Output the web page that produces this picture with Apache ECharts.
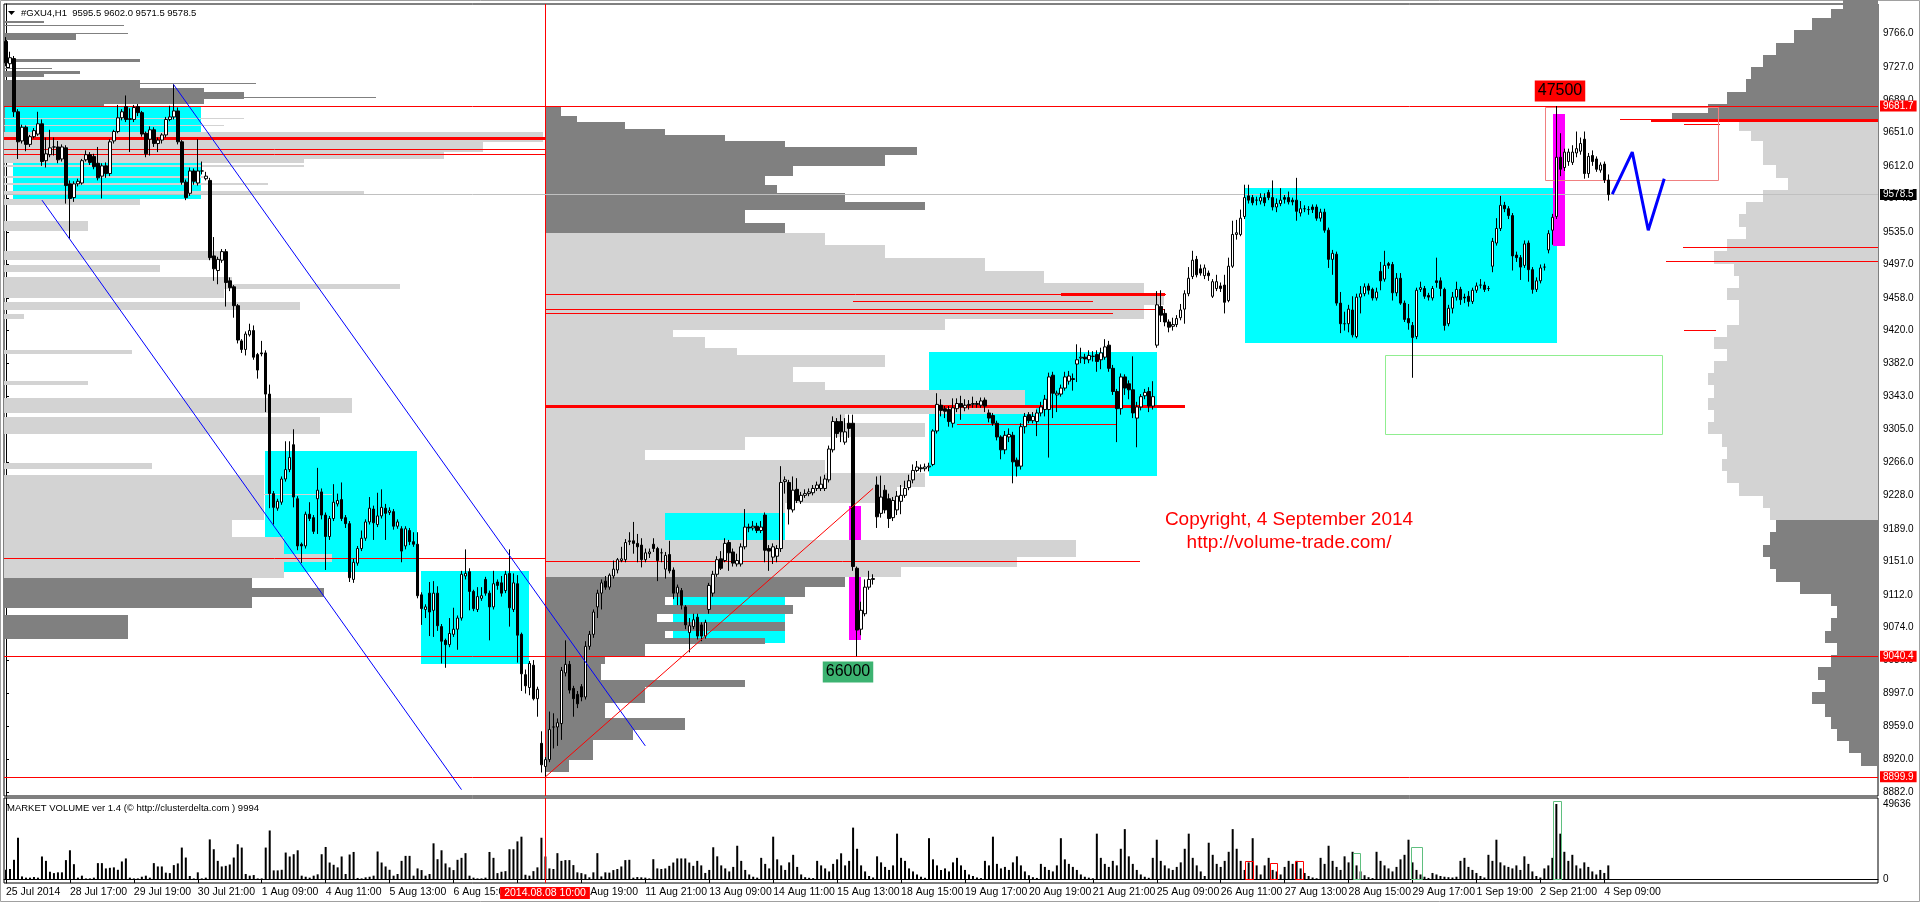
<!DOCTYPE html>
<html><head><meta charset="utf-8">
<script src="https://cdn.jsdelivr.net/npm/echarts@6/dist/echarts.min.js"></script>
<style>html,body{margin:0;padding:0;background:#fff}#c{width:1920px;height:902px}</style>
</head><body><div id="c"></div>
<script>
// ---------------- DATA ----------------
const SLOTS = 469;
const dateLabels = [[0,'25 Jul 2014'],[16,'28 Jul 17:00'],[32,'29 Jul 19:00'],[48,'30 Jul 21:00'],[64,'1 Aug 09:00'],[80,'4 Aug 11:00'],[96,'5 Aug 13:00'],[112,'6 Aug 15:00'],[128,'7 Aug 17:00'],[144,'8 Aug 19:00'],[160,'11 Aug 21:00'],[176,'13 Aug 09:00'],[192,'14 Aug 11:00'],[208,'15 Aug 13:00'],[224,'18 Aug 15:00'],[240,'19 Aug 17:00'],[256,'20 Aug 19:00'],[272,'21 Aug 21:00'],[288,'25 Aug 09:00'],[304,'26 Aug 11:00'],[320,'27 Aug 13:00'],[336,'28 Aug 15:00'],[352,'29 Aug 17:00'],[368,'1 Sep 19:00'],[384,'2 Sep 21:00'],[400,'4 Sep 09:00']];
const priceTicks = [8882,8920,8959,8997,9036,9074,9112,9151,9189,9228,9266,9305,9343,9382,9420,9458,9497,9535,9574,9612,9651,9689,9727,9766];
const volTicks = [0, 49636];
// O H L C per H1 bar
const ohlc = [
[9757,9762,9728,9732],[9731,9745,9726,9738],[9737,9740,9669,9675],[9675,9678,9620,9640],[9641,9660,9638,9657],[9657,9659,9629,9637],[9637,9648,9634,9646],[9646,9656,9644,9653],[9649,9675,9647,9661],[9661,9666,9612,9617],
[9618,9645,9610,9626],[9625,9654,9622,9633],[9634,9645,9624,9634],[9634,9641,9615,9619],[9620,9637,9617,9634],[9633,9636,9568,9589],[9591,9595,9527,9574],[9575,9594,9570,9591],[9591,9597,9588,9594],[9592,9620,9590,9618],
[9619,9630,9617,9625],[9625,9628,9613,9616],[9623,9626,9608,9611],[9615,9634,9595,9598],[9600,9615,9574,9612],[9612,9616,9598,9603],[9603,9643,9600,9640],[9641,9654,9638,9652],[9652,9683,9650,9668],[9668,9678,9665,9675],
[9681,9694,9663,9666],[9666,9679,9628,9667],[9666,9683,9663,9680],[9681,9684,9670,9674],[9674,9676,9646,9649],[9650,9652,9622,9626],[9643,9658,9624,9654],[9654,9657,9634,9638],[9638,9645,9628,9642],[9642,9650,9638,9648],
[9648,9669,9645,9666],[9666,9682,9664,9669],[9669,9707,9666,9676],[9676,9680,9637,9640],[9640,9642,9590,9593],[9593,9596,9572,9575],[9580,9610,9577,9606],[9606,9609,9590,9594],[9592,9643,9589,9606],[9606,9617,9602,9606],
[9597,9605,9595,9600],[9595,9598,9502,9505],[9507,9529,9478,9492],[9490,9506,9474,9503],[9502,9515,9499,9512],[9512,9515,9448,9476],[9478,9482,9466,9470],[9471,9473,9435,9449],[9449,9451,9405,9409],[9408,9410,9394,9398],
[9398,9419,9391,9416],[9415,9428,9413,9420],[9420,9426,9386,9389],[9392,9394,9364,9374],[9394,9408,9390,9393],[9394,9397,9325,9346],[9346,9357,9213,9230],[9230,9233,9194,9214],[9213,9224,9210,9221],[9220,9250,9217,9247],
[9247,9291,9244,9258],[9258,9291,9255,9272],[9287,9305,9214,9226],[9224,9227,9164,9169],[9171,9173,9149,9169],[9169,9209,9166,9206],[9206,9220,9198,9201],[9202,9205,9183,9186],[9224,9260,9183,9234],[9232,9236,9200,9205],
[9205,9208,9141,9180],[9180,9204,9176,9201],[9201,9241,9198,9220],[9218,9230,9215,9222],[9223,9243,9198,9201],[9202,9205,9190,9195],[9195,9198,9127,9132],[9130,9154,9126,9150],[9149,9169,9146,9166],[9166,9187,9163,9178],
[9178,9200,9175,9197],[9197,9226,9194,9213],[9212,9216,9176,9196],[9194,9231,9191,9204],[9204,9235,9201,9214],[9213,9218,9176,9207],[9208,9214,9205,9210],[9209,9212,9188,9192],[9192,9200,9189,9197],[9189,9192,9150,9163],
[9169,9192,9165,9189],[9187,9190,9170,9174],[9174,9185,9168,9171],[9171,9185,9108,9111],[9112,9115,9077,9096],[9095,9101,9085,9098],[9114,9127,9064,9092],[9094,9128,9063,9114],[9114,9122,9070,9076],[9075,9078,9032,9058],
[9059,9061,9027,9054],[9054,9085,9051,9067],[9066,9097,9063,9072],[9072,9088,9048,9085],[9085,9140,9082,9136],[9134,9165,9130,9137],[9139,9143,9094,9116],[9116,9118,9093,9096],[9095,9121,9092,9110],[9108,9121,9105,9111],
[9130,9133,9111,9114],[9114,9117,9059,9098],[9098,9140,9095,9125],[9127,9130,9118,9123],[9126,9134,9110,9114],[9117,9140,9114,9136],[9137,9165,9075,9097],[9095,9137,9092,9126],[9125,9135,9033,9065],[9066,9068,9000,9020],
[9019,9025,8997,9006],[9004,9035,8995,9032],[9030,9036,8989,8991],[8991,9005,8970,9002],[8939,8953,8905,8914],[8912,8923,8899.9,8920],[8920,8976,8917,8955],[8958,8974,8933,8958],[8958,8968,8936,8963],[8962,9028,8943,9024],
[9021,9059,9017,9031],[9031,9035,8997,9001],[9003,9006,8970,8991],[8996,9000,8980,8985],[9005,9008,8988,8993],[8993,9058,8990,9052],[9052,9070,9048,9066],[9066,9095,9062,9092],[9098,9118,9085,9114],[9114,9130,9095,9126],
[9128,9134,9118,9121],[9121,9137,9118,9135],[9134,9152,9131,9142],[9141,9155,9137,9153],[9152,9168,9150,9154],[9153,9177,9150,9173],[9174,9185,9170,9175],[9175,9197,9160,9172],[9172,9183,9150,9168],[9170,9178,9144,9153],
[9153,9166,9150,9161],[9160,9166,9155,9162],[9171,9178,9162,9166],[9166,9168,9128,9152],[9161,9166,9150,9161],[9142,9162,9131,9158],[9159,9175,9137,9140],[9141,9144,9107,9114],[9114,9124,9100,9121],[9117,9120,9095,9100],
[9098,9100,9072,9077],[9068,9085,9045,9076],[9075,9090,9072,9083],[9086,9090,9060,9064],[9077,9080,9058,9064],[9064,9083,9061,9080],[9095,9126,9090,9123],[9114,9140,9110,9136],[9136,9157,9133,9153],[9154,9163,9141,9143],
[9152,9178,9150,9172],[9173,9176,9140,9161],[9162,9166,9145,9149],[9148,9160,9145,9152],[9148,9172,9145,9168],[9168,9212,9165,9191],[9191,9195,9185,9190],[9190,9198,9187,9192],[9192,9196,9184,9187],[9187,9198,9184,9191],
[9205,9208,9150,9164],[9166,9170,9140,9163],[9156,9172,9148,9168],[9157,9170,9150,9166],[9166,9262,9162,9243],[9244,9250,9230,9246],[9243,9246,9194,9212],[9211,9250,9208,9234],[9235,9248,9219,9222],[9221,9232,9218,9228],
[9228,9235,9225,9230],[9230,9236,9227,9232],[9231,9240,9228,9236],[9236,9244,9233,9240],[9236,9250,9233,9241],[9236,9252,9233,9247],[9246,9286,9243,9282],[9281,9320,9278,9314],[9314,9318,9295,9300],[9314,9322,9290,9302],
[9290,9318,9287,9302],[9312,9322,9295,9306],[9312,9322,9140,9145],[9143,9145,9040.4,9071],[9072,9104,9065,9094],[9090,9130,9087,9121],[9121,9140,9118,9130],[9130,9136,9124,9131],[9240,9250,9190,9203],[9207,9251,9202,9226],
[9234,9240,9207,9211],[9224,9230,9190,9201],[9202,9226,9198,9222],[9211,9233,9205,9227],[9221,9240,9206,9228],[9228,9245,9225,9236],[9237,9252,9234,9245],[9246,9264,9242,9257],[9257,9268,9255,9261],[9260,9264,9255,9259],
[9259,9265,9256,9261],[9261,9266,9256,9262],[9264,9305,9262,9303],[9303,9347,9300,9334],[9333,9340,9320,9327],[9329,9332,9318,9326],[9328,9332,9308,9314],[9312,9341,9307,9330],[9329,9341,9325,9335],[9335,9344,9316,9331],
[9330,9340,9326,9333],[9334,9339,9328,9333],[9334,9343,9330,9335],[9335,9338,9330,9334],[9333,9342,9330,9338],[9339,9342,9325,9332],[9324,9328,9313,9318],[9321,9324,9309,9312],[9312,9315,9292,9296],[9296,9298,9270,9281],
[9281,9303,9276,9298],[9296,9306,9290,9299],[9298,9302,9242,9267],[9269,9272,9250,9262],[9262,9312,9258,9308],[9308,9324,9300,9320],[9322,9325,9312,9315],[9315,9325,9312,9320],[9314,9328,9297,9324],[9324,9337,9320,9331],
[9328,9345,9320,9340],[9328,9371,9272,9366],[9368,9372,9318,9347],[9345,9350,9325,9347],[9346,9357,9343,9353],[9353,9372,9350,9366],[9361,9373,9357,9367],[9364,9370,9350,9363],[9381,9404,9360,9386],[9388,9400,9382,9389],
[9389,9393,9381,9387],[9386,9397,9382,9391],[9390,9396,9384,9390],[9392,9397,9372,9384],[9386,9400,9375,9394],[9389,9410,9386,9401],[9403,9408,9372,9376],[9376,9380,9345,9349],[9349,9352,9290,9329],[9329,9370,9322,9366],
[9366,9369,9345,9353],[9358,9362,9340,9351],[9351,9390,9318,9324],[9318,9337,9284,9331],[9331,9346,9327,9343],[9344,9352,9340,9348],[9349,9354,9325,9332],[9332,9361,9328,9343],[9403,9466,9400,9450],[9448,9467,9430,9438],
[9440,9445,9425,9430],[9430,9433,9418,9424],[9425,9435,9420,9427],[9427,9438,9424,9434],[9435,9451,9432,9444],[9445,9467,9428,9463],[9463,9494,9460,9481],[9483,9513,9480,9502],[9503,9507,9482,9485],[9492,9497,9484,9487],
[9484,9497,9480,9493],[9487,9490,9478,9484],[9460,9480,9458,9477],[9469,9485,9466,9477],[9472,9476,9465,9469],[9473,9485,9440,9453],[9455,9505,9453,9495],[9495,9548,9493,9532],[9532,9549,9526,9534],[9532,9561,9530,9551],
[9553,9590,9550,9575],[9577,9590,9568,9572],[9575,9578,9566,9569],[9572,9576,9566,9572],[9571,9580,9567,9575],[9575,9580,9565,9569],[9581,9584,9572,9575],[9575,9595,9560,9564],[9564,9574,9558,9568],[9568,9586,9565,9572],
[9575,9578,9568,9573],[9575,9582,9567,9570],[9572,9575,9566,9570],[9572,9598,9548,9559],[9557,9571,9553,9562],[9562,9566,9558,9562],[9561,9565,9555,9561],[9564,9567,9557,9561],[9564,9567,9548,9551],[9551,9562,9547,9558],
[9558,9562,9534,9537],[9537,9540,9493,9503],[9503,9514,9485,9510],[9509,9512,9449,9452],[9452,9465,9417,9428],[9428,9442,9420,9428],[9428,9450,9418,9445],[9444,9460,9412,9415],[9413,9463,9411,9459],[9459,9472,9440,9463],
[9463,9475,9460,9471],[9472,9475,9462,9467],[9468,9470,9455,9458],[9458,9470,9455,9465],[9489,9500,9467,9478],[9480,9513,9477,9496],[9498,9500,9492,9496],[9497,9500,9455,9464],[9464,9487,9460,9481],[9481,9487,9450,9452],
[9452,9455,9430,9433],[9434,9451,9421,9429],[9426,9430,9365,9412],[9413,9470,9410,9467],[9468,9477,9465,9470],[9469,9472,9457,9460],[9461,9464,9455,9459],[9458,9472,9455,9469],[9478,9505,9470,9476],[9478,9482,9460,9469],
[9468,9470,9420,9426],[9428,9450,9425,9446],[9446,9465,9440,9459],[9459,9477,9455,9468],[9468,9471,9450,9456],[9459,9463,9452,9458],[9460,9466,9448,9454],[9454,9470,9451,9467],[9467,9476,9464,9472],[9473,9480,9469,9473],
[9473,9477,9465,9468],[9469,9472,9466,9469],[9495,9528,9488,9524],[9522,9551,9519,9539],[9539,9577,9536,9566],[9566,9570,9558,9562],[9562,9565,9550,9554],[9554,9557,9490,9507],[9508,9512,9500,9505],[9505,9508,9479,9494],
[9496,9525,9493,9521],[9522,9525,9477,9491],[9491,9494,9463,9468],[9468,9482,9465,9478],[9478,9497,9475,9493],[9494,9498,9490,9494],[9514,9537,9510,9533],[9537,9556,9520,9552],[9553,9681.7,9550,9622],[9622,9650,9600,9608],
[9610,9632,9606,9628],[9617,9632,9612,9628],[9616,9636,9613,9628],[9627,9652,9622,9632],[9629,9645,9625,9638],[9643,9652,9597,9603],[9603,9627,9598,9623],[9624,9630,9612,9617],[9620,9623,9605,9608],[9607,9616,9604,9613],
[9614,9617,9592,9595.5],[9595.5,9602,9571.5,9578.5]
];
const volume = [
6100,6600,12700,27300,1700,900,900,1300,900,14900,12000,4800,3900,4400,4400,12500,19000,9800,900,2200,
400,400,900,10500,10500,7000,7400,7700,6100,11600,13600,900,400,400,1500,2200,900,10500,8300,8300,
4200,3900,9200,10300,20800,14200,2000,400,4400,400,900,26200,19700,12000,8300,8700,9600,14200,23000,20800,
3300,2200,2600,400,400,20800,32100,5700,5700,6100,17500,14900,16400,19000,2200,1500,900,2200,3100,16400,
21200,10900,9400,7700,14900,3300,16200,17900,700,400,1100,1500,2200,18200,10900,8300,6100,2200,3300,12000,
15300,15300,2200,7000,5900,2200,3300,23600,13100,19000,10300,7700,5900,12700,14000,17100,2200,900,400,400,
900,17900,14000,3900,4800,5200,19700,19700,24900,28000,2800,2200,5200,7700,27300,14900,7000,6600,17100,12000,
12500,12500,9200,4400,3900,3100,1100,4400,17100,1700,4400,4200,5900,6600,8300,12500,12700,900,1300,1100,
900,400,13100,7000,6600,7000,8700,10900,13600,13600,13600,10900,8700,
12000,9000,4000,6000,21000,15000,9000,7000,5000,8000,22000,12000,6000,3000,
1500,900,14000,10000,7000,28000,13000,9000,6000,11000,16000,8000,3000,1200,
800,600,12000,9000,7000,5000,10000,13000,17000,9000,12000,34000,20000,9000,5000,2000,
1000,15000,11000,8000,6000,9000,30000,14000,12000,7000,5000,3000,1500,800,
27000,13000,9000,6000,7000,5000,11000,14000,9000,6000,3000,2000,1000,600,
12000,9000,28000,10000,7000,8000,6000,11000,15000,9000,5000,2500,1200,700,
10000,8000,6000,5000,9000,27000,13000,10000,8000,6000,3000,1500,900,500,
30000,14000,10000,8000,12000,9000,20000,33000,15000,10000,6000,3000,1500,800,
14000,26000,12000,9000,7000,6000,8000,11000,20000,30000,14000,9000,5000,2000,
24000,16000,10000,8000,12000,18000,33000,20000,12000,6000,11000,27000,9000,3000,
9000,14000,6000,5000,3000,8000,12000,10000,12000,7000,4000,2000,1000,500,
14000,10000,22000,12000,8000,6000,15000,11000,18000,9000,5000,2500,1200,600,
18000,12000,9000,7000,5000,8000,13000,16000,26000,11000,6000,3000,1500,700,
4000,3000,2000,1500,1200,1000,1500,12000,14000,8000,6000,4000,2000,1000,
16000,12000,26000,11000,9000,8000,7000,9000,6000,15000,10000,5000,2000,1000,
7000,9000,14000,49636,30000,18000,12000,16000,9000,7000,11000,8000,5000,3000,6000,4000,9000
];
// volume profiles: [price top, price bottom, volume (bar units)]
const leftProfile = [[9781,9778,10],[9776.5,9775.3,30],[9767,9759,18],[9766.5,9765.5,31],[9737,9733,34],[9726.5,9725.2,12],[9723,9719,19],[9721,9716,10],[9712,9703,34],[9708,9707,63],[9703,9684,50],[9698,9690,60],[9692.5,9691.5,93],[9684,9682,25],
[9668,9666,60],[9660,9658,55],[9652,9640,135],[9640,9628,120],[9628,9620,110],[9620,9615,75],[9613,9611,75],[9600,9598,50],[9592,9590,66],[9583,9578,90],[9573,9566,34],[9548,9536,21],[9513,9502,55],[9496,9488,39],[9483,9474,57],[9474,9469,99],[9469,9458,55],[9453,9444,74],[9439,9434,5],[9397,9393,32],[9361,9356,21],[9342,9324,87],[9319,9300,79],[9266,9259,37],[9252,9199,65],[9230,9228,82],[9199,9180,57],[9180,9132,70],[9160,9150,82],
[9132,9097,62],[9120,9110,80],[9088,9060,31],[9062,9060,13]];
const leftValueArea = [9132, 9682];
const midProfile = [[9680,9670,4],[9670,9663,8],[9663,9655,20],[9655,9648,30],[9648,9641,45],[9641,9634,60],[9634,9625,93],[9625,9612,85],[9612,9600,62],[9600,9590,55],[9590,9580,58],[9580,9570,75],[9570,9560,95],[9560,9545,50],[9545,9534,60],
[9534,9520,70],[9520,9505,85],[9505,9490,110],[9490,9475,125],[9475,9463,150],[9463,9450,155],[9450,9434,150],[9434,9421,100],[9421,9413,32],[9413,9400,40],[9400,9392,48],[9392,9378,85],[9378,9360,62],[9360,9351,70],[9351,9333,120],[9333,9323,123],[9323,9312,75],[9312,9296,95],[9296,9281,50],[9281,9269,25],[9269,9254,70],[9254,9238,95],[9238,9219,88],[9219,9207,60],[9207,9176,30],[9176,9156,133],[9156,9145,118],[9145,9133,89],
[9133,9121,75],[9121,9110,65],[9110,9100,30],[9100,9090,62],[9090,9080,28],[9080,9070,60],[9070,9062,30],[9062,9055,55],[9055,9040,25],[9040,9032,15],[9032,9013,14],[9013,9005,50],[9005,8986,25],[8986,8968,15],[8968,8954,35],[8954,8943,22],[8943,8920,12],[8920,8906,6]];
const midValueArea = [9133, 9534];
const rightProfile = [[9805,9795,8.8],[9795,9784,11.8],[9784,9770,16.5],[9770,9755,21],[9755,9741,25.5],[9741,9727,28.8],[9727,9713,31.8],[9713,9698,33],[9698,9684,37.8],[9684,9673,42.5],[9673,9663,51.5],[9663,9653,34.8],[9653,9641,31.8],[9641,9627,28.8],[9627,9613,28.8],[9613,9598,25.5],[9598,9584,22.5],[9584,9570,28.8],[9570,9556,33],[9556,9541,34.8],[9541,9527,33],[9527,9513,37.8],[9513,9498,41],[9498,9484,36],[9484,9470,34.8],[9470,9456,37.8],[9456,9441,34.8],[9441,9427,34.8],[9427,9413,37.8],[9413,9399,41],[9399,9384,37.8],[9384,9370,41],[9370,9356,42.5],[9356,9341,41],[9341,9327,42.5],[9327,9313,41],[9313,9299,42.5],[9299,9284,39],[9284,9270,37.8],[9270,9256,39],[9256,9242,37.8],[9242,9227,34.8],[9227,9213,28.8],[9213,9199,27],[9199,9185,25.5],[9185,9170,27],[9170,9156,28.8],[9156,9142,27],[9142,9127,25.5],[9127,9113,19.5],[9113,9099,11.8],[9099,9085,10.3],[9085,9070,11.8],[9070,9056,13.3],[9056,9042,10.3],[9042,9028,11.8],[9028,9013,15],[9013,8999,13.3],[8999,8985,16.5],[8985,8970,13.3],[8970,8956,11.8],[8956,8942,10.3],[8942,8928,7.3],[8928,8913,4.3]];
const rightValueArea = [9199, 9663];
// zones: [bar from, bar to, price low, price high]
const cyanZones = [[-0.25,48.8,9652,9682],[1.75,48.8,9573,9615],[64.8,102.9,9139,9280],[103.9,130.9,9031,9140],[164.9,194.9,9176,9207],[166.9,194.9,9056,9128],[231,288,9251,9395],[310,388.1,9406,9586]];
const magentaZones = [[211,214,9171,9215],[211,214,9059,9145],[387.1,390.1,9518,9672]];
const pinkFrames = [[385.1,428.4,9596,9680]];
const greenFrames = [[345.1,414.4,9299,9392]];
// horizontal levels: [bar from, bar to, price]
const redLevelsThin = [[-0.5,134.9,9632],[-0.5,134.9,9626],[-0.5,134.9,9155],[134.9,283.8,9151],[134.9,290.3,9463],[212,272,9455],[134.9,290,9445],[134.9,277,9440],[238,278,9311],[404,411.7,9666],[420,429,9661],[419.7,468.5,9517],[415.4,468.5,9501],[420,428,9421]];
const redLevelsThick = [[-0.5,134.9,9644],[134.9,295,9332],[264,290,9463],[411.7,468.5,9665]];
const fullLevels = [9681.7, 9040.4, 8899.9];
const lastPrice = 9578.5;
const channelUpper = [[41.9,9707],[160,8936]];
const channelLower = [[9,9572],[114,8885]];
const trendLine = [[135,8899.9],[217,9236]];
const forecast = [[402,9579],[407,9628],[411,9537],[415,9597]];
const markerBar = 135;
const volRedFrames = [[310.1,312.1,11900],[316.4,318.2,10600],[322.7,324.7,11900]];
const volGreenFrames = [[337.1,338.8,16900],[351.6,354.4,20900],[387.1,389.1,51600]];
const volumeLabels = [[389,9699,'47500'],[210.7,9022,'66000']];

// ---------------- CHART ----------------
const PRICE_MIN = 8877.6, PRICE_MAX = 9800.6, VOL_MIN = -2650, VOL_MAX = 53600;
const cats = new Array(SLOTS).fill('');
dateLabels.forEach(([i, s]) => { cats[i] = s; });
const FONT = '"Liberation Sans", Arial, sans-serif';
const chart = echarts.init(document.getElementById('c'), null, {width:1920, height:902});

function rectRender(fill, stroke) {
  return function (params, api) {
    const a = api.coord([api.value(0), api.value(3)]);
    const b = api.coord([api.value(1), api.value(2)]);
    const x0 = Math.round(a[0]), x1 = Math.round(b[0]), y0 = Math.round(a[1]), y1 = Math.round(b[1]);
    if (stroke) return {type:'rect', shape:{x:x0+0.5, y:y0+0.5, width:x1-x0, height:y1-y0}, style:{fill:null, stroke:stroke, lineWidth:1}};
    return {type:'rect', shape:{x:x0, y:y0, width:x1-x0, height:y1-y0}, style:{fill:fill}};
  };
}
function levelRender(color, lw) {
  return function (params, api) {
    const a = api.coord([api.value(0), api.value(2)]);
    const b = api.coord([api.value(1), api.value(2)]);
    const y = lw % 2 ? Math.round(a[1]) + 0.5 : Math.round(a[1]);
    return {type:'line', shape:{x1:Math.round(a[0]), y1:y, x2:Math.round(b[0]), y2:y}, style:{stroke:color, lineWidth:lw}};
  };
}
function profileRender(anchor, dir, va) {
  return function (params, api) {
    const pt = api.value(0), pb = api.value(1), len = api.value(2);
    const a = api.coord([anchor, pt]);
    const b = api.coord([anchor + dir * len, pb]);
    const mid = (pt + pb) / 2;
    const dark = mid > va[1] || mid < va[0];
    const xa = Math.round(a[0]), xb = Math.round(b[0]);
    const ya = Math.round(a[1]), yb = Math.round(b[1]);
    return {type:'rect', shape:{x:Math.min(xa,xb), y:ya, width:Math.abs(xb-xa), height:Math.max(1, yb-ya)}, style:{fill: dark ? '#808080' : '#D3D3D3'}};
  };
}
function vline(p, api) {
  const a = api.coord([api.value(0), api.value(2)]); const b = api.coord([api.value(0), api.value(1)]);
  const x = Math.round(a[0]) + 0.5;
  return {type:'line', shape:{x1:x, y1:a[1], x2:x, y2:b[1]}, style:{stroke:'#FF0000', lineWidth:1}};
}
function volFrame(color) {
  return function (p, api) {
    const a = api.coord([api.value(0), api.value(2)]); const b = api.coord([api.value(1), 0]);
    return {type:'rect', shape:{x:Math.round(a[0])+0.5, y:Math.round(a[1])+0.5, width:Math.round(b[0]-a[0]), height:Math.round(b[1]-a[1])}, style:{fill:null, stroke:color, lineWidth:1}};
  };
}
function custom(name, data, render, z, xi, yi) {
  return {type:'custom', name, data, renderItem: render, z: z, silent:true, xAxisIndex: xi === undefined ? 2 : xi, yAxisIndex: yi === undefined ? 0 : yi, animation:false};
}
function lineSeries(data, color, width, z) {
  return {type:'line', data, xAxisIndex:2, yAxisIndex:0, symbol:'none', lineStyle:{color, width}, z, silent:true, animation:false, clip:true};
}

const option = {
  animation: false,
  backgroundColor: '#fff',
  grid: [
    {left:4, top:4, width:1874, height:792, show:true, borderColor:'#000', borderWidth:1, backgroundColor:'transparent'},
    {left:4, top:798, width:1874, height:85, show:true, borderColor:'#000', borderWidth:1, backgroundColor:'transparent'}
  ],
  xAxis: [
    {type:'category', gridIndex:0, data:cats, boundaryGap:true, axisLine:{show:false}, axisTick:{show:false}, axisLabel:{show:false}, splitLine:{show:false}},
    {type:'category', gridIndex:1, data:cats, boundaryGap:true, position:'bottom',
      axisLine:{show:true, lineStyle:{color:'#000', width:1}},
      axisTick:{show:true, alignWithLabel:true, interval:(i,v)=>v!=='', length:4, lineStyle:{color:'#000'}},
      axisLabel:{show:true, interval:(i,v)=>v!=='', align:'left', margin:4, color:'#000', fontSize:10.5, fontFamily:FONT}},
    {type:'value', gridIndex:0, min:-0.5, max:SLOTS-0.5, show:false},
    {type:'value', gridIndex:1, min:-0.5, max:SLOTS-0.5, show:false}
  ],
  yAxis: [
    {type:'value', gridIndex:0, position:'right', min:PRICE_MIN, max:PRICE_MAX, scale:true,
      axisLine:{show:true, lineStyle:{color:'#000'}},
      axisTick:{show:true, customValues:priceTicks, length:3, lineStyle:{color:'#000'}},
      axisLabel:{show:true, customValues:priceTicks, formatter:v=>Number(v).toFixed(1), margin:5, color:'#000', fontSize:10, fontFamily:FONT},
      splitLine:{show:false}},
    {type:'value', gridIndex:1, position:'right', min:VOL_MIN, max:VOL_MAX,
      axisLine:{show:true, lineStyle:{color:'#000'}},
      axisTick:{show:true, customValues:volTicks, length:3, lineStyle:{color:'#000'}},
      axisLabel:{show:true, customValues:volTicks, formatter:v=>String(v), margin:5, color:'#000', fontSize:10, fontFamily:FONT},
      splitLine:{show:false}}
  ],
  series: [
    custom('cyan', cyanZones, rectRender('#00FFFF'), 1),
    custom('magenta', magentaZones, rectRender('#FF00FF'), 1),
    custom('leftProfile', leftProfile, profileRender(-0.5, 1, leftValueArea), 2),
    custom('midProfile', midProfile, profileRender(134.9, 1, midValueArea), 2),
    custom('rightProfile', rightProfile, profileRender(SLOTS-0.5, -1, rightValueArea), 2),
    custom('redThin', redLevelsThin, levelRender('#FF0000', 1), 3),
    custom('redThick', redLevelsThick, levelRender('#FF0000', 3), 3),
    custom('pink', pinkFrames, rectRender(null, '#F08080'), 3),
    custom('green', greenFrames, rectRender(null, '#90EE90'), 3),
    custom('marker', [[markerBar, PRICE_MIN, PRICE_MAX]], vline, 3),
    custom('markerVol', [[markerBar, VOL_MIN, VOL_MAX]], vline, 3, 3, 1),
    {type:'candlestick', name:'GXU4', xAxisIndex:0, yAxisIndex:0, z:5, barWidth:3,
      data: ohlc.map(r => [r[0], r[3], r[2], r[1]]),
      itemStyle:{color:'#FFFFFF', color0:'#000000', borderColor:'#000000', borderColor0:'#000000', borderWidth:1},
      markLine:{silent:true, symbol:'none', animation:false,
        data: fullLevels.map(v => ({yAxis:v, lineStyle:{color:'#FF0000', width:1, type:'solid'}, label:{backgroundColor:'#FF0000', color:'#FFFFFF'}}))
          .concat([{yAxis:lastPrice, lineStyle:{color:'#C0C0C0', width:1, type:'solid'}, label:{backgroundColor:'#000000', color:'#FFFFFF'}}]),
        label:{show:true, position:'end', distance:2, formatter:p=>Number(p.value).toFixed(1), fontSize:10, fontFamily:FONT, padding:[1,3,0,3]}
      }},
    lineSeries(channelUpper, '#0000FF', 1, 6),
    lineSeries(channelLower, '#0000FF', 1, 6),
    lineSeries(trendLine, '#FF0000', 1, 6),
    lineSeries(forecast, '#0000FF', 3, 6),
    {type:'bar', name:'volume', xAxisIndex:1, yAxisIndex:1, data:volume, barWidth:2, itemStyle:{color:'#000'}, z:2, silent:true, animation:false},
    custom('volRed', volRedFrames, volFrame('#FF0000'), 3, 3, 1),
    custom('volGreen', volGreenFrames, volFrame('#5FBF7F'), 3, 3, 1),
    custom('volLabels', volumeLabels, function (p, api) {
      const c = api.coord([api.value(0), api.value(1)]);
      const item = volumeLabels[p.dataIndex];
      const bg = p.dataIndex === 0 ? '#FF0000' : '#3CB371';
      return {type:'text', x:Math.round(c[0]), y:Math.round(c[1]), style:{text:item[2], fill:'#000', font:'16px ' + FONT, align:'center', verticalAlign:'middle', backgroundColor:bg, padding:[3,3,2,3]}};
    }, 10)
  ]
};
chart.setOption(option);

const mx = chart.convertToPixel({xAxisIndex:2}, markerBar);
chart.setOption({graphic: [
  {type:'rect', shape:{x:0.5, y:0.5, width:1919, height:901}, style:{fill:null, stroke:'#A0A0A0', lineWidth:1}, z:0, silent:true},
  {type:'polygon', shape:{points:[[8,11],[15,11],[11.5,15]]}, style:{fill:'#000'}, z:20},
  {type:'text', x:21, y:13, style:{text:'#GXU4,H1  9595.5 9602.0 9571.5 9578.5', fill:'#000', font:'9.5px ' + FONT, verticalAlign:'middle'}, z:20},
  {type:'text', x:7, y:808, style:{text:'MARKET VOLUME ver 1.4 (\u00A9 http://clusterdelta.com ) 9994', fill:'#000', font:'9.5px ' + FONT, verticalAlign:'middle'}, z:20},
  {type:'text', x:1289, y:520, style:{text:'Copyright, 4 September 2014', fill:'#FF0000', font:'19px ' + FONT, align:'center', verticalAlign:'middle'}, z:20},
  {type:'text', x:1289, y:543, style:{text:'http://volume-trade.com/', fill:'#FF0000', font:'19px ' + FONT, align:'center', verticalAlign:'middle'}, z:20},
  {type:'text', x:Math.round(mx), y:893, style:{text:'2014.08.08 10:00', fill:'#FFF', font:'10.5px ' + FONT, align:'center', verticalAlign:'middle', backgroundColor:'#FF0000', padding:[1,4,0,4]}, z:20}
]});
</script></body></html>
